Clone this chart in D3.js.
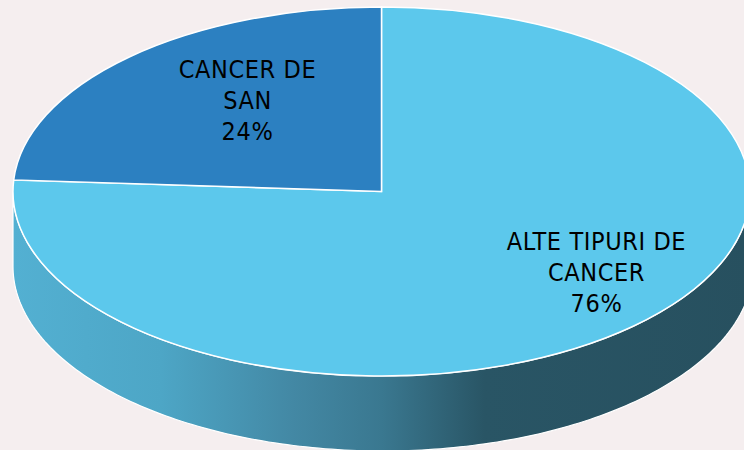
<!DOCTYPE html>
<html>
<head>
<meta charset="utf-8">
<script src="https://cdn.jsdelivr.net/npm/d3@7"></script>
<style>
  html, body { margin: 0; padding: 0; background: #f5eeef; overflow: hidden; }
  text { font-family: "DejaVu Sans Condensed", "DejaVu Sans", sans-serif; font-size: 25px; letter-spacing: 0.6px; fill: #000; }
</style>
</head>
<body>
<div id="chart"></div>
<script>
const categories = ['ALTE TIPURI DE CANCER', 'CANCER DE SAN']
const values = [76, 24]
const sliceColors = ['#5cc8ec', '#2c80c1']
const labelLines = [['ALTE TIPURI DE', 'CANCER', '76%'], ['CANCER DE', 'SAN', '24%']]

const width = 744
const height = 450
const center = { x: 381.5, y: 191.5 }
const radius = { x: 368.5, y: 184.5 }
const bottom = { x: 383, y: 266.5, rx: 370 }

const svg = d3.select('#chart')
  .append('svg')
  .attr('width', width)
  .attr('height', height)
  .style('display', 'block')

const gradient = svg.append('defs')
  .append('linearGradient')
  .attr('id', 'wall-gradient')
  .attr('gradientUnits', 'userSpaceOnUse')
  .attr('x1', center.x - radius.x)
  .attr('x2', center.x + radius.x)
  .attr('y1', 0)
  .attr('y2', 0)

const wallStops = [
  [0, '#53b0d2'],
  [0.2, '#4da6c6'],
  [0.38, '#4388a4'],
  [0.5, '#3a7890'],
  [0.64, '#295565'],
  [1, '#27505f']
]
gradient.selectAll('stop')
  .data(wallStops)
  .enter().append('stop')
  .attr('offset', d => d[0])
  .attr('stop-color', d => d[1])

// side wall: lower half of the top ellipse down to a slightly wider bottom ellipse
const wallAngles = d3.range(0, 181).map(d => d * Math.PI / 180)
const wallTop = a => [center.x + radius.x * Math.cos(a), center.y + radius.y * Math.sin(a)]
const wallBottom = a => [bottom.x + bottom.rx * Math.cos(a), bottom.y + radius.y * Math.sin(a)]
const wallLine = d3.line()

svg.append('path')
  .attr('d', wallLine(wallAngles.map(wallTop).concat(wallAngles.slice().reverse().map(wallBottom))) + 'Z')
  .attr('fill', 'url(#wall-gradient)')
  .attr('stroke', '#fff')
  .attr('stroke-width', 1.2)

const pie = d3.pie().sort(null).value(d => d)
const arc = d3.arc().innerRadius(0).outerRadius(1)

svg.append('g')
  .attr('transform', `translate(${center.x},${center.y}) scale(${radius.x},${radius.y})`)
  .selectAll('path')
  .data(pie(values))
  .enter().append('path')
  .attr('d', arc)
  .attr('fill', (d, i) => sliceColors[i])
  .attr('stroke', '#fff')
  .attr('stroke-width', 1.5)
  .attr('vector-effect', 'non-scaling-stroke')
  .append('title')
  .text((d, i) => categories[i])

const labelPos = [{ x: 596.5, y: 250 }, { x: 247.5, y: 78 }]
const lineStep = 31

labelLines.forEach((lines, i) => {
  svg.append('text')
    .attr('text-anchor', 'middle')
    .selectAll('tspan')
    .data(lines)
    .enter().append('tspan')
    .attr('x', labelPos[i].x)
    .attr('y', (d, j) => labelPos[i].y + j * lineStep)
    .text(d => d)
})
</script>
</body>
</html>
